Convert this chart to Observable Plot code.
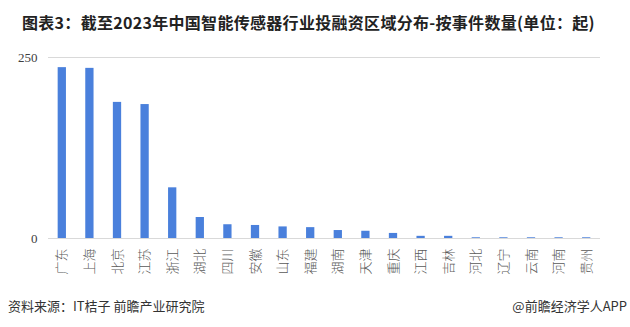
<!DOCTYPE html>
<html><head><meta charset="utf-8">
<script src="https://cdn.jsdelivr.net/npm/d3@7"></script>
<script src="https://cdn.jsdelivr.net/npm/@observablehq/plot@0.6"></script>
<style>
body{margin:0;background:#fff;width:630px;height:327px;overflow:hidden;position:relative;font-family:"Noto Sans CJK SC","Noto Sans",sans-serif;}
#title{position:absolute;left:22px;top:10px;font-size:16px;font-weight:bold;color:#222;letter-spacing:0.3px;white-space:nowrap;}
#src{position:absolute;left:8px;top:296px;font-size:13px;color:#333;white-space:nowrap;}
#app{position:absolute;right:3px;top:296px;font-size:13px;color:#333;white-space:nowrap;}
#chart{position:absolute;left:0;top:0;}
</style></head>
<body>
<div id="chart"></div>
<div id="title">图表3：截至2023年中国智能传感器行业投融资区域分布-按事件数量(单位：起)</div>
<div id="src">资料来源：IT桔子 前瞻产业研究院</div>
<div id="app">@前瞻经济学人APP</div>
<script>
const regions = ["广东","上海","北京","江苏","浙江","湖北","四川","安徽","山东","福建","湖南","天津","重庆","江西","吉林","河北","辽宁","云南","河南","贵州"];
const counts = [236,235,188,185,70,29,19,18,16,15,11,10,7,3,3,1,1,1,1,1];
const yTicks = [0,250];
const data = regions.map((r,i)=>({region:r,count:counts[i]}));

const chart = Plot.plot({
  width:630,
  height:327,
  marginTop:57,
  marginBottom:89,
  marginLeft:48,
  marginRight:30,
  style:{background:"transparent",overflow:"visible",fontFamily:"'Liberation Serif', serif"},
  x:{domain:regions,paddingInner:0.7,paddingOuter:0.35,round:false,label:null},
  y:{domain:[0,250],label:null},
  marks:[
    Plot.ruleY(yTicks,{stroke:"#d9d9d9",strokeWidth:1}),
    Plot.barY(data,{x:"region",y:"count",fill:"#4a80dc"}),
    Plot.axisY(yTicks,{tickSize:0,tickPadding:11,label:null,fontSize:13,fill:"#404040"}),
    Plot.axisX({tickSize:0,tickPadding:10,tickRotate:-90,label:null,fontSize:13,fill:"#595959",fontFamily:"Noto Sans CJK SC",fontWeight:300})
  ]
});
document.getElementById("chart").appendChild(chart);
</script>
</body></html>
